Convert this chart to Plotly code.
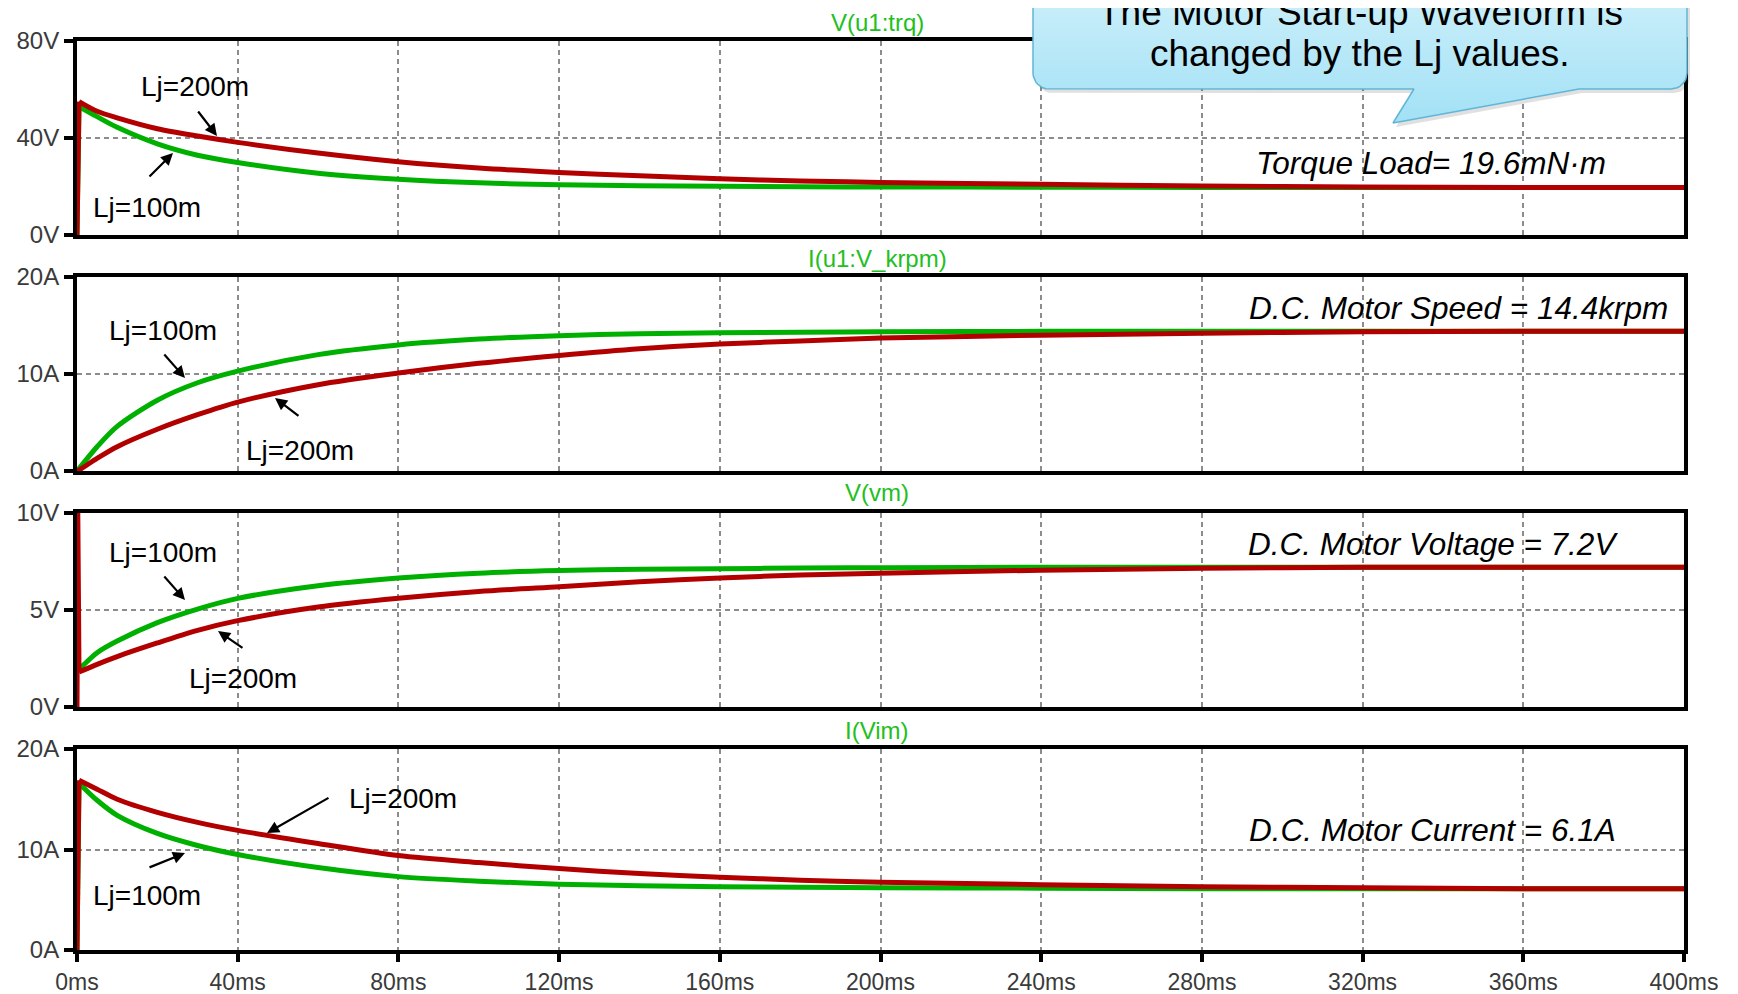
import math
import plotly.graph_objects as go

# The page body has an 8px margin, so the figure is sized and placed to fill the 1738x994 window.
PAGE_W, PAGE_H, OFF = 1738, 994, 8
W, H = PAGE_W - OFF, PAGE_H - OFF

# ---------------- data ----------------
t_ms = [0, 0.5, 5, 10, 20, 30, 40, 60, 80, 100, 120, 140, 160, 180, 200, 240, 280, 320, 360, 400]

# Panel 1: V(u1:trq)  (torque, V units)
trq_200 = [0, 55, 51.0, 48.3, 43.8, 40.8, 38.2, 33.8, 30.2, 27.6, 25.8, 24.4, 23.2, 22.3, 21.7, 20.9, 20.2, 19.8, 19.6, 19.6]
trq_100 = [0, 53, 48.8, 44.4, 37.6, 32.9, 29.9, 25.5, 23.0, 21.5, 20.7, 20.3, 20.1, 19.9, 19.8, 19.7, 19.6, 19.6, 19.6, 19.6]

# Panel 2: I(u1:V_krpm)  (speed)
spd_200 = [0, 0.1, 1.3, 2.5, 4.3, 5.8, 7.1, 8.9, 10.1, 11.1, 11.9, 12.6, 13.1, 13.4, 13.7, 14.0, 14.2, 14.35, 14.4, 14.4]
spd_100 = [0, 0.25, 2.5, 4.6, 7.3, 9.1, 10.3, 12.0, 13.0, 13.6, 13.95, 14.15, 14.25, 14.3, 14.35, 14.4, 14.4, 14.4, 14.4, 14.4]

# Panel 3: V(vm)
t_vm = [0, 0.2, 0.5, 5, 10, 20, 30, 40, 60, 80, 100, 120, 140, 160, 180, 200, 240, 280, 320, 360, 400]
vm_200 = [0, 10, 1.8, 2.2, 2.6, 3.3, 3.95, 4.45, 5.15, 5.6, 5.95, 6.2, 6.45, 6.65, 6.8, 6.9, 7.05, 7.15, 7.2, 7.2, 7.2]
vm_100 = [1.9, 1.9, 1.95, 2.8, 3.4, 4.35, 5.05, 5.6, 6.25, 6.65, 6.9, 7.03, 7.1, 7.13, 7.16, 7.18, 7.2, 7.2, 7.2, 7.2, 7.2]

# Panel 4: I(Vim)  (motor current)
im_200 = [0, 16.9, 16.0, 15.0, 13.7, 12.7, 11.9, 10.6, 9.4, 8.7, 8.1, 7.6, 7.25, 6.95, 6.75, 6.5, 6.3, 6.2, 6.1, 6.1]
im_100 = [0, 16.6, 14.9, 13.4, 11.6, 10.4, 9.5, 8.2, 7.3, 6.85, 6.55, 6.4, 6.3, 6.25, 6.2, 6.15, 6.1, 6.1, 6.1, 6.1]

x_ticks = list(range(0, 401, 40))
x_labels = [f"{v}ms" for v in x_ticks]

panel_titles = ["V(u1:trq)", "I(u1:V_krpm)", "V(vm)", "I(Vim)"]
y_ranges = [[0, 80], [0, 20], [0, 10], [0, 20]]
y_tickvals = [[0, 40, 80], [0, 10, 20], [0, 5, 10], [0, 10, 20]]
y_ticktext = [["0V", "40V", "80V"], ["0A", "10A", "20A"], ["0V", "5V", "10V"], ["0A", "10A", "20A"]]
result_labels = ["Torque Load= 19.6mN·m", "D.C. Motor Speed = 14.4krpm",
                 "D.C. Motor Voltage = 7.2V", "D.C. Motor Current = 6.1A"]
callout_lines = ["The Motor Start-up Waveform is", "changed by the Lj values."]

RED = "#b20000"
GREEN = "#00b000"
TITLE_GREEN = "#22bf22"
FONT = "Liberation Sans, Arial, sans-serif"

# ---------------- layout geometry (window pixels) ----------------
def px(x):
    return (x - OFF) / W

def py(y):
    return 1 - (y - OFF) / H

X0, X1 = 77, 1684
panel_px = [(41, 235), (277, 471), (513, 707), (749, 950)]

fig = go.Figure()

# (time, Lj=100m values, Lj=200m values, index of start-up peak for 100m, for 200m)
series = [
    (t_ms, trq_100, trq_200, 1, 1),
    (t_ms, spd_100, spd_200, 0, 0),
    (t_vm, vm_100, vm_200, 0, 2),
    (t_ms, im_100, im_200, 1, 1),
]

def add_series(tt, vals, k, color, xa, ya):
    # start-up edge drawn straight, the rest smoothed
    if k > 0:
        fig.add_trace(go.Scatter(x=tt[:k + 1], y=vals[:k + 1], mode="lines",
                                 line=dict(color=color, width=5),
                                 xaxis=xa, yaxis=ya, showlegend=False, hoverinfo="skip"))
    fig.add_trace(go.Scatter(x=tt[k:], y=vals[k:], mode="lines",
                             line=dict(color=color, width=5, shape="spline", smoothing=0.8),
                             xaxis=xa, yaxis=ya, showlegend=False, hoverinfo="skip"))

for i, (tt, g, r, kg, kr) in enumerate(series):
    n = i + 1
    xa = "x" if n == 1 else f"x{n}"
    ya = "y" if n == 1 else f"y{n}"
    add_series(tt, g, kg, GREEN, xa, ya)
    add_series(tt, r, kr, RED, xa, ya)

tick_font = dict(family=FONT, size=24, color="#3a3a3a")
xtick_font = dict(family=FONT, size=23, color="#3a3a3a")

layout = dict(
    width=W, height=H,
    margin=dict(l=0, r=0, t=0, b=0, pad=0, autoexpand=False),
    paper_bgcolor="white", plot_bgcolor="rgba(0,0,0,0)",
    showlegend=False,
)

for i in range(4):
    n = i + 1
    top, bot = panel_px[i]
    last = (n == 4)
    xk = "xaxis" if n == 1 else f"xaxis{n}"
    yk = "yaxis" if n == 1 else f"yaxis{n}"
    layout[xk] = dict(
        domain=[px(X0), px(X1)], range=[0, 400], anchor="y" if n == 1 else f"y{n}",
        tickvals=x_ticks, ticktext=x_labels, showticklabels=last,
        ticks="outside" if last else "", ticklen=8, tickwidth=4, tickcolor="black",
        tickfont=xtick_font, automargin=False,
        showgrid=True, gridcolor="#8c8c8c", griddash="5px,4px", gridwidth=1.5,
        showline=True, linecolor="black", linewidth=4, mirror=True,
        zeroline=False, layer="below traces", fixedrange=True,
    )
    if n > 1:
        layout[xk]["matches"] = "x"
    layout[yk] = dict(
        domain=[py(bot), py(top)], range=y_ranges[i], anchor="x" if n == 1 else f"x{n}",
        tickvals=y_tickvals[i], ticktext=y_ticktext[i],
        ticks="outside", ticklen=9, tickwidth=4, tickcolor="black",
        tickfont=tick_font, automargin=False,
        showgrid=True, gridcolor="#8c8c8c", griddash="5px,4px", gridwidth=1.5,
        showline=True, linecolor="black", linewidth=4, mirror=True,
        zeroline=False, layer="below traces", fixedrange=True,
    )

# overlay window-pixel axes for the callout
layout["xaxis5"] = dict(domain=[0, 1], range=[OFF, PAGE_W], visible=False, anchor="y5",
                        fixedrange=True, automargin=False)
layout["yaxis5"] = dict(domain=[0, 1], range=[PAGE_H, OFF], visible=False, anchor="x5",
                        fixedrange=True, automargin=False)

fig.update_layout(**layout)

# ---------------- callout bubble ----------------
bx0, bx1, by0, by1, rad = 1033, 1687, -80, 89, 16
tail = [(1579, by1), (1393, 123), (1414, by1)]

def arc(cx, cy, a0, a1, n=8):
    return [(cx + rad * math.cos(math.radians(a0 + (a1 - a0) * k / n)),
             cy + rad * math.sin(math.radians(a0 + (a1 - a0) * k / n))) for k in range(n + 1)]

pts = []
pts += arc(bx0 + rad, by0 + rad, 180, 270)
pts += arc(bx1 - rad, by0 + rad, 270, 360)
pts += arc(bx1 - rad, by1 - rad, 0, 90)
pts += tail
pts += arc(bx0 + rad, by1 - rad, 90, 180)
pts.append(pts[0])
cx = [p[0] for p in pts]
cy = [p[1] for p in pts]

fig.add_trace(go.Scatter(x=[v + 3 for v in cx], y=[v + 4 for v in cy], fill="toself", mode="lines",
                         line=dict(width=0), fillcolor="rgba(0,0,0,0.12)",
                         xaxis="x5", yaxis="y5", showlegend=False, hoverinfo="skip"))
fig.add_trace(go.Scatter(x=cx, y=cy, fill="toself", mode="lines",
                         line=dict(color="#5fb6d6", width=1.5),
                         fillgradient=dict(type="vertical",
                                           colorscale=[[0, "#a2e1f6"], [1, "#e2f6fc"]]),
                         xaxis="x5", yaxis="y5", showlegend=False, hoverinfo="skip"))

ann = []
lab_font = dict(family=FONT, size=28, color="black")

# panel titles
title_y = [22, 258, 493, 730]
for txt, yy in zip(panel_titles, title_y):
    ann.append(dict(text=txt, x=px(877), y=py(yy), xref="paper", yref="paper", showarrow=False,
                    xanchor="center", yanchor="middle",
                    font=dict(family=FONT, size=24, color=TITLE_GREEN)))

# result labels
res_y = [163, 308, 544, 830]
res_x = [1254, 1247, 1246, 1247]
for txt, xx, yy in zip(result_labels, res_x, res_y):
    ann.append(dict(text=f"<i>{txt}</i>", x=px(xx), y=py(yy), xref="paper", yref="paper",
                    showarrow=False, xanchor="left", yanchor="middle",
                    font=dict(family=FONT, size=31.5, color="black")))

# Lj labels and arrows: (text, text_x, text_y, tail_x, tail_y, tip_x, tip_y)
lj = [
    ("Lj=200m", 195, 86, 197, 110, 217, 136),
    ("Lj=100m", 147, 207, 148, 178, 173, 153),
    ("Lj=100m", 163, 330, 163, 353, 185, 378),
    ("Lj=200m", 300, 450, 300, 417, 275, 398),
    ("Lj=100m", 163, 552, 163, 575, 185, 600),
    ("Lj=200m", 243, 678, 244, 649, 218, 631),
    ("Lj=200m", 403, 798, 330, 797, 267, 833),
    ("Lj=100m", 147, 895, 148, 868, 185, 853),
]
for txt, tx, ty, ax0, ay0, tx1, ty1 in lj:
    ann.append(dict(text=txt, x=px(tx), y=py(ty), xref="paper", yref="paper", showarrow=False,
                    xanchor="center", yanchor="middle", font=lab_font))
    ann.append(dict(text="", x=px(tx1), y=py(ty1), xref="paper", yref="paper", showarrow=True,
                    ax=ax0 - tx1, ay=ay0 - ty1, axref="pixel", ayref="pixel",
                    arrowhead=2, arrowsize=1.1, arrowwidth=2.2, arrowcolor="black", standoff=0))

# callout text
for txt, yy in zip(callout_lines, [12, 53]):
    ann.append(dict(text=txt, x=px(1360), y=py(yy), xref="paper", yref="paper", showarrow=False,
                    xanchor="center", yanchor="middle",
                    font=dict(family=FONT, size=37, color="black")))

fig.update_layout(annotations=ann)

fig.write_html("out.html")
